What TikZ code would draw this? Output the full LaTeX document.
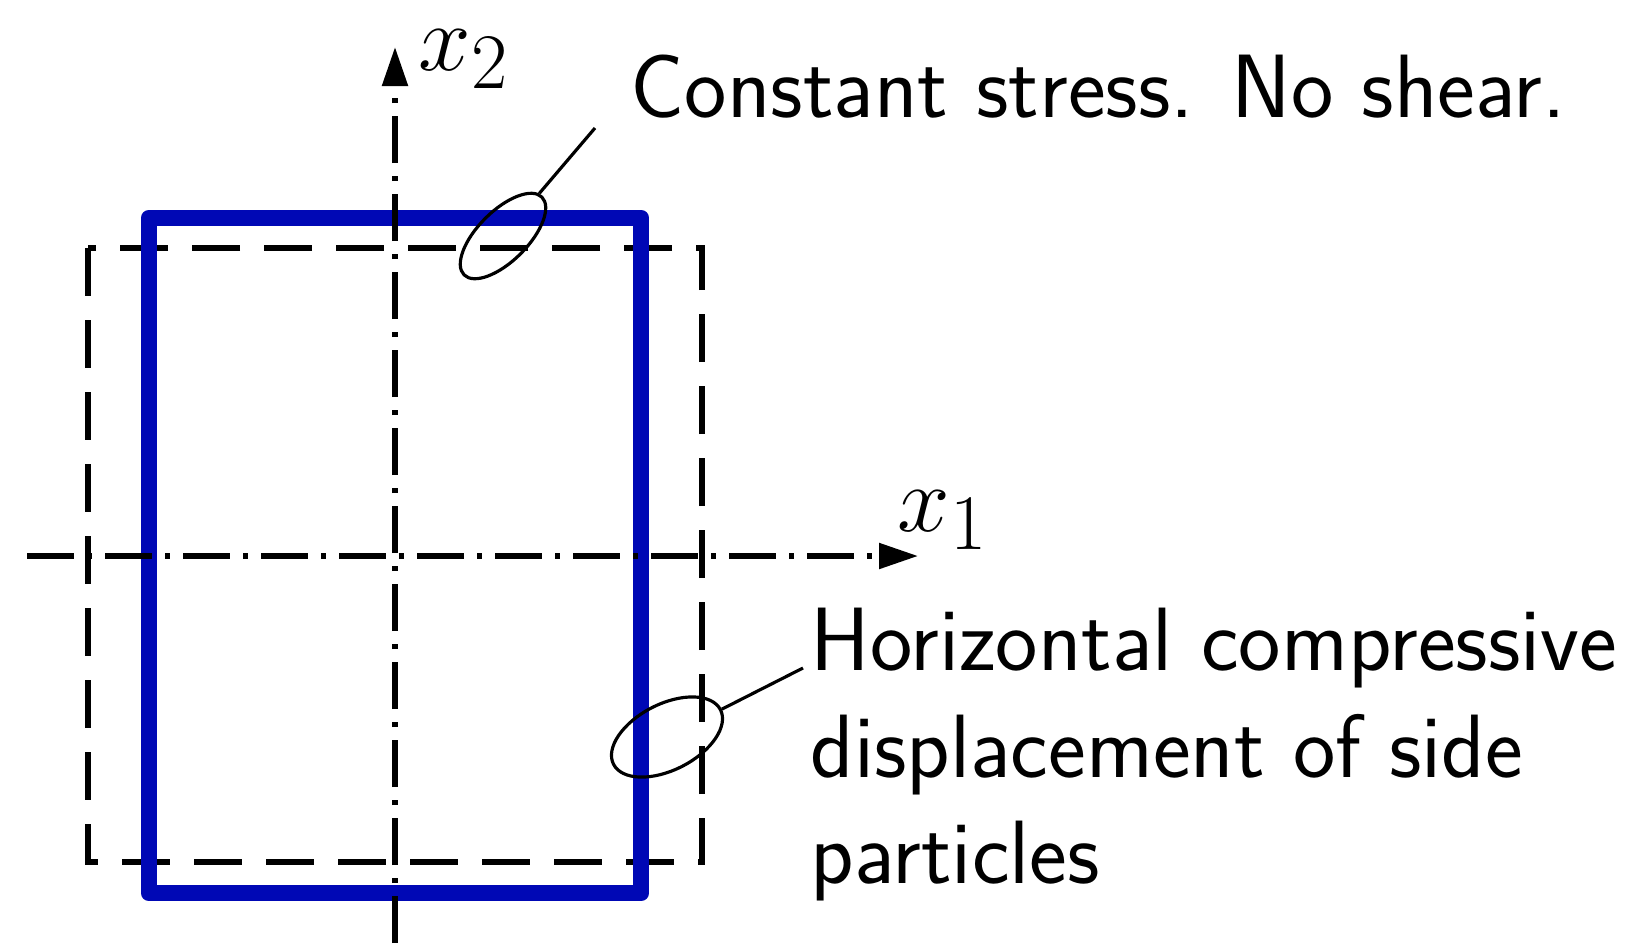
\documentclass[tikz,border=0pt]{standalone}
\usepackage{tikz}
\usetikzlibrary{arrows.meta,shapes.geometric}

\definecolor{plateblue}{RGB}{0,8,181}

\begin{document}
\begin{tikzpicture}[
  axis/.style={line width=1.5pt, dash pattern=on 4.7mm off 1.3mm on 0.5mm off 1.3mm,
               -{Triangle[length=3.9mm,width=2.5mm]}},
  plate/.style={draw=plateblue, line width=4.8pt, line join=round},
  moved/.style={draw, line width=1.6pt, dash pattern=on 4.8mm off 2.4mm},
  marker/.style={ellipse, draw, line width=0.9pt, inner sep=0pt},
  leader/.style={line width=0.9pt},
  label/.style={font=\fontsize{25.6}{30.4}\selectfont\sffamily, inner sep=0pt, align=left},
  axlabel/.style={font=\fontsize{24.88}{30}\selectfont, inner sep=0pt, scale=1.08}
]
\useasboundingbox (0,0) rectangle (16.33,-9.43);

% deformed and original shape
\draw[moved] (0.88,-2.48) rectangle (7.02,-8.62);
\draw[plate] (1.49,-2.18) rectangle (6.41,-8.93);

% axes
\coordinate (o1) at (0.27,-5.56);
\coordinate (e1) at (9.18,-5.56);
\coordinate (o2) at (3.95,-9.43);
\coordinate (e2) at (3.95,-0.47);
\draw[axis] (o1) -- (e1);
\draw[axis] (o2) -- (e2);
\node[axlabel, anchor=base west] (x1) at (8.97,-5.31) {$x_1$};
\node[axlabel, anchor=base west] (x2) at (4.18,-0.70) {$x_2$};

% annotations
\node[marker, minimum width=1.10cm, minimum height=0.50cm, rotate=45] (top) at (5.03,-2.36) {};
\node[marker, minimum width=1.20cm, minimum height=0.66cm, rotate=27] (side) at (6.67,-7.37) {};
\coordinate (t1) at (5.95,-1.28);
\coordinate (t2) at (8.03,-6.68);
\draw[leader] (top) -- (t1);
\draw[leader] (side) -- (t2);
\node[label, anchor=base west] (stress) at (6.30,-1.17) {Constant stress. No shear.};
\node[label, anchor=north west] (disp) at (8.10,-6.07)
  {Horizontal compressive\\displacement of side\\particles};
\end{tikzpicture}
\end{document}
